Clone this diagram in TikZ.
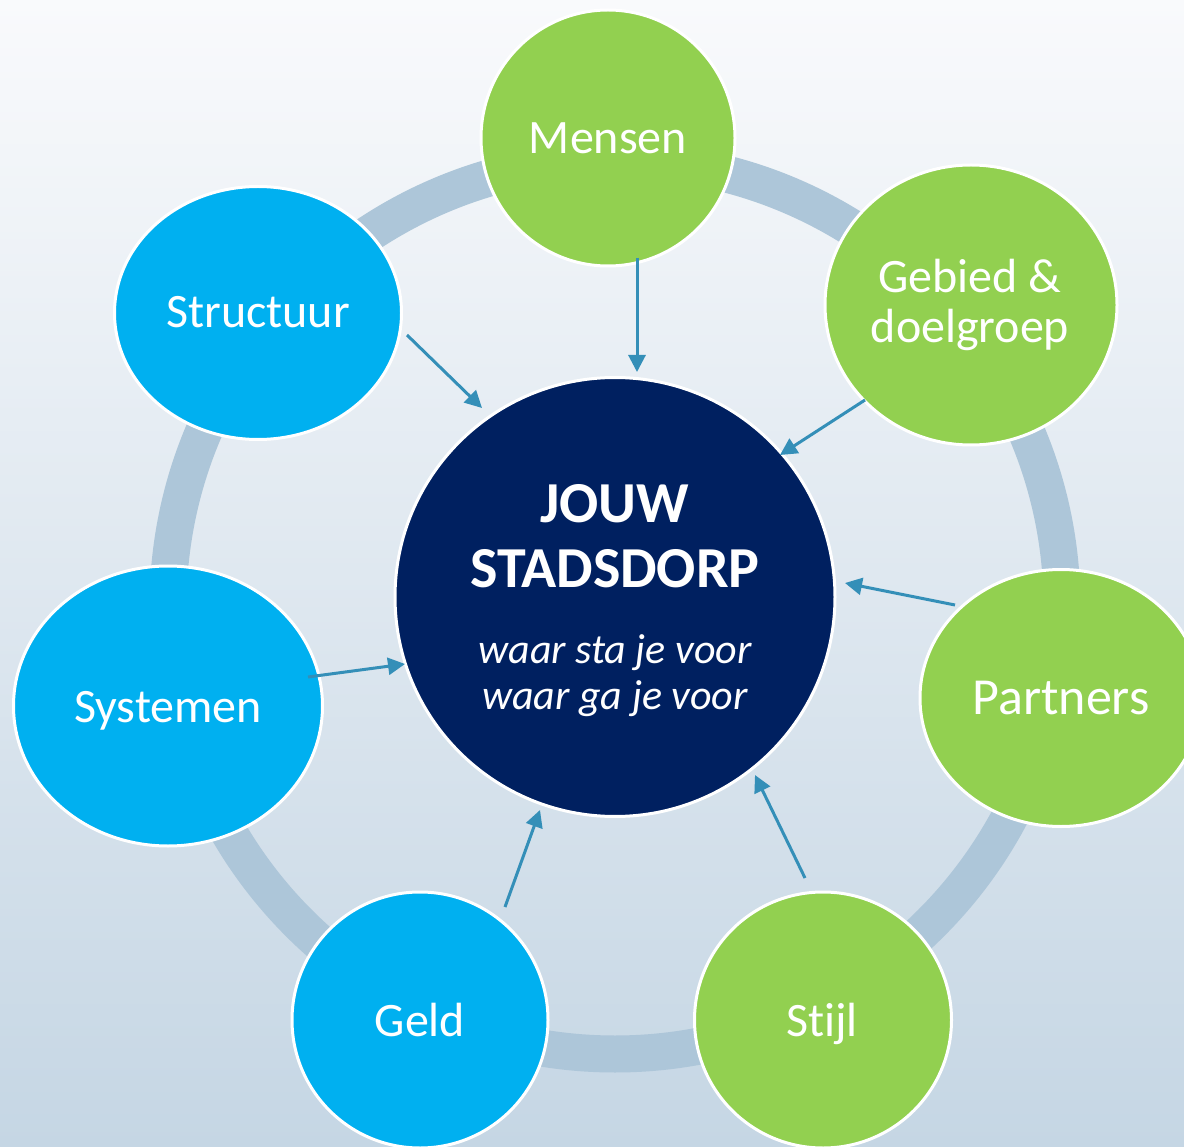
\documentclass[tikz,border=0pt]{standalone}
\usepackage{fontspec}
\setmainfont{Carlito}[Ligatures=NoCommon]
\usetikzlibrary{shapes.geometric,arrows.meta}
\definecolor{bgtop}{HTML}{F9FAFC}
\definecolor{bgbot}{HTML}{C5D6E4}
\definecolor{ringc}{HTML}{ADC6D9}
\definecolor{grn}{HTML}{92D050}
\definecolor{blu}{HTML}{00B0F0}
\definecolor{navy}{HTML}{002060}
\definecolor{arr}{HTML}{348FB8}
\begin{document}
\begin{tikzpicture}[x=1pt,y=-1pt,
  bubble/.style={ellipse, draw=white, line width=3pt, inner sep=0pt},
  lbl/.style={text=white, font=\fontsize{48pt}{51pt}\selectfont, anchor=base, inner sep=0pt},
  ctitle/.style={text=white, font=\bfseries\fontsize{58pt}{64pt}\selectfont, anchor=base, inner sep=0pt},
  csub/.style={text=white, font=\itshape\fontsize{42pt}{46pt}\selectfont, anchor=base, inner sep=0pt},
  conn/.style={draw=arr, line width=3pt, -{Triangle[length=17pt,width=17pt]}}]
\useasboundingbox (0,0) rectangle (1184,1147);
\shade[top color=bgtop, bottom color=bgbot] (0,0) rectangle (1184,1147);
\draw[ringc, line width=37pt] (615,607) circle[radius=447pt];

\node[bubble, fill=grn, minimum width=254pt, minimum height=256pt] (mensen) at (608,138) {};
\node[bubble, fill=grn, minimum width=292pt, minimum height=280pt] (gebied) at (971,305) {};
\node[bubble, fill=grn, minimum width=282pt, minimum height=257pt] (partners) at (1061,698) {};
\node[bubble, fill=grn, minimum width=257pt, minimum height=256pt] (stijl) at (823,1020) {};
\node[bubble, fill=blu, minimum width=256pt, minimum height=256pt] (geld) at (420,1020) {};
\node[bubble, fill=blu, minimum width=309pt, minimum height=280pt] (systemen) at (168,706) {};
\node[bubble, fill=blu, minimum width=287pt, minimum height=253pt] (structuur) at (258,313) {};
\node[bubble, fill=navy, minimum width=440pt, minimum height=439pt] (center) at (615,597) {};

\node[lbl] (tMensen) at (608,154) {Mensen};
\node[lbl] (tGebiedA) at (970,293) {Gebied \&};
\node[lbl] (tGebiedB) at (970,343) {doelgroep};
\node[lbl, font=\fontsize{52pt}{56pt}\selectfont] (tPartners) at (1061,714) {Partners};
\node[lbl] (tStijl) at (822,1036) {Stijl};
\node[lbl] (tGeld) at (420,1036) {Geld};
\node[lbl] (tSystemen) at (168,722) {Systemen};
\node[lbl] (tStructuur) at (258,328) {Structuur};

\node[ctitle] (tJouw) at (615,522) {JOUW};
\node[ctitle] (tStad) at (615,587) {STADSDORP};
\node[csub] (tWaar1) at (615,663) {waar sta je voor};
\node[csub] (tWaar2) at (615,709) {waar ga je voor};

\coordinate (s1) at (637,258); \coordinate (e1) at (637,372);
\coordinate (s2) at (865,400); \coordinate (e2) at (780,455);
\coordinate (s3) at (955,605); \coordinate (e3) at (845,583);
\coordinate (s4) at (805,878); \coordinate (e4) at (755,775);
\coordinate (s5) at (505,907); \coordinate (e5) at (540,810);
\coordinate (s6) at (308,677); \coordinate (e6) at (405,664);
\coordinate (s7) at (407,335); \coordinate (e7) at (482,408);
\foreach \i in {1,...,7} \draw[conn] (s\i) -- (e\i);
\end{tikzpicture}
\end{document}
